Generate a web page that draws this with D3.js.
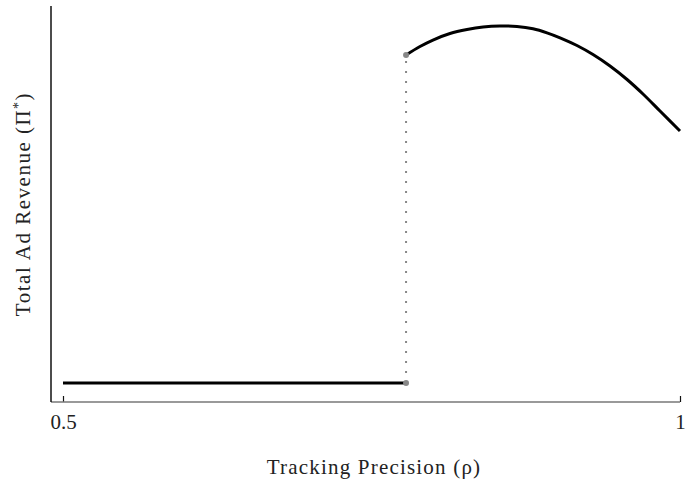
<!DOCTYPE html>
<html>
<head>
<meta charset="utf-8">
<script src="https://cdn.jsdelivr.net/npm/d3@7"></script>
<style>
  body { margin: 0; background: #fff; }
  text { font-family: "Liberation Serif", "DejaVu Serif", serif; fill: #222; }
</style>
</head>
<body>
<svg id="chart" width="685" height="480"></svg>
<script>
// data
var xTicks = [0.5, 1];
var xTickLabels = ["0.5", "1"];
var threshold = 0.778;
var lowRevenue = 0.048;
var flatRho = [0.5, threshold];
var curveRho = [0.778, 0.7893, 0.7998, 0.8136, 0.8274, 0.8404, 0.8541, 0.8679, 0.8809,
                0.8922, 0.9028, 0.9165, 0.9295, 0.9433, 0.9571, 0.97, 0.9838, 1.0];
var curveRev = [0.8763, 0.8977, 0.9141, 0.9306, 0.9407, 0.947, 0.9495, 0.9482, 0.9424,
                0.9323, 0.9197, 0.9003, 0.8775, 0.8485, 0.8144, 0.7778, 0.7348, 0.6843];

var pad_l = 51, pad_r = 680, pad_t = 6, pad_b = 402;

var xScale = d3.scaleLinear().domain([0.5, 1]).range([63, 680]);
var yScale = d3.scaleLinear().domain([0, 1]).range([pad_b, pad_t]);

var svg = d3.select("#chart");

// x axis
var xAxis = d3.axisBottom(xScale)
    .tickValues(xTicks)
    .tickFormat(function(d, i) { return xTickLabels[i]; })
    .tickSize(-6)
    .tickPadding(12);
var gx = svg.append("g")
    .attr("class", "x axis")
    .attr("transform", "translate(0," + pad_b + ")")
    .call(xAxis);
gx.attr("font-size", null).attr("font-family", null);
gx.select(".domain").remove();
gx.selectAll("line").attr("stroke", "#111").attr("stroke-width", 1.2);
gx.selectAll("text")
    .style("font-size", "21px")
    .style("fill", "#222");

svg.append("line")
    .attr("x1", pad_l).attr("x2", pad_r)
    .attr("y1", pad_b).attr("y2", pad_b)
    .style("stroke", "#777")
    .style("stroke-width", 1.5);

// y axis (no ticks)
svg.append("line")
    .attr("x1", pad_l).attr("x2", pad_l)
    .attr("y1", pad_t).attr("y2", pad_b)
    .style("stroke", "#111")
    .style("stroke-width", 1.5);

// labels
svg.append("text")
    .attr("text-anchor", "middle")
    .attr("x", 374)
    .attr("y", 474)
    .style("font-size", "21px")
    .style("letter-spacing", "1.2px")
    .text("Tracking Precision (\u03C1)");

var ylab = svg.append("text")
    .attr("text-anchor", "middle")
    .attr("transform", "translate(30,204) rotate(-90)")
    .style("font-size", "21px")
    .style("letter-spacing", "1.5px");
ylab.append("tspan").text("Total Ad Revenue (\u03A0");
ylab.append("tspan").attr("baseline-shift", "super").style("font-size", "14px").text("*");
ylab.append("tspan").text(")");

// dotted jump
svg.append("line")
    .attr("x1", xScale(threshold)).attr("x2", xScale(threshold))
    .attr("y1", yScale(lowRevenue)).attr("y2", yScale(curveRev[0]))
    .style("stroke", "#888")
    .style("stroke-width", 2)
    .style("stroke-dasharray", "2,8");

var line = d3.line()
    .x(function(d) { return xScale(d[0]); })
    .y(function(d) { return yScale(d[1]); })
    .curve(d3.curveCatmullRom);

svg.append("path")
    .datum(flatRho.map(function(r) { return [r, lowRevenue]; }))
    .attr("d", line)
    .attr("fill", "none")
    .attr("stroke", "#000")
    .attr("stroke-width", 3);

svg.append("path")
    .datum(curveRho.map(function(r, i) { return [r, curveRev[i]]; }))
    .attr("d", line)
    .attr("fill", "none")
    .attr("stroke", "#000")
    .attr("stroke-width", 3);

// endpoints
svg.selectAll("circle")
    .data([[threshold, lowRevenue], [curveRho[0], curveRev[0]]])
    .enter()
    .append("circle")
    .attr("cx", function(d) { return xScale(d[0]); })
    .attr("cy", function(d) { return yScale(d[1]); })
    .attr("r", 3)
    .attr("fill", "#888");
</script>
</body>
</html>
